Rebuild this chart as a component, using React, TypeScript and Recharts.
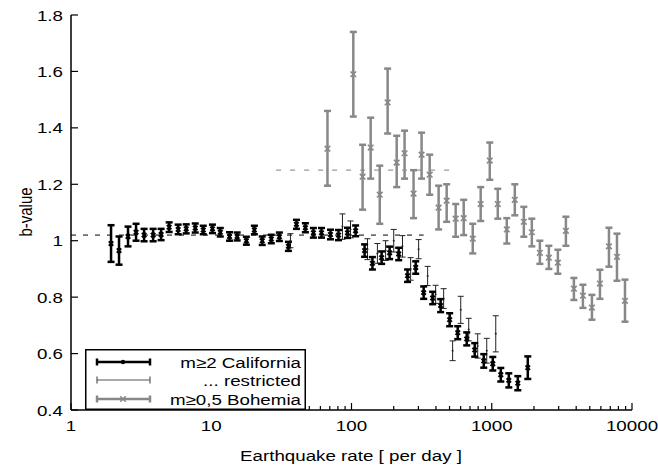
import React from 'react';
import { ComposedChart, Scatter, XAxis, YAxis, ErrorBar, ReferenceLine, Legend } from 'recharts';

const FONT = '"Liberation Sans", Arial, sans-serif';
const FS = 15;
const STRETCH = 1.25;

// m>=2 California (thick black)
const caX = [1.93, 2.2, 2.55, 2.91, 3.32, 3.85, 4.39, 5.01, 5.81, 6.63, 7.69, 8.77, 10.2, 11.6, 13.5, 15.3, 17.8, 20.3, 23.1, 26.8, 30.6, 35.5, 40.5, 46.9, 53.5, 61.1, 70.8, 80.8, 93.6, 107, 124, 141, 164, 187, 217, 251, 287, 327, 379, 432, 501, 572, 663, 756, 877, 1017, 1160, 1323, 1534, 1807];
const caB = [0.99, 0.965, 1.015, 1.03, 1.02, 1.02, 1.022, 1.048, 1.04, 1.042, 1.045, 1.038, 1.042, 1.03, 1.015, 1.015, 1.0, 1.038, 1.0, 1.006, 1.014, 0.98, 1.058, 1.046, 1.028, 1.028, 1.022, 1.02, 1.028, 1.035, 0.965, 0.92, 0.94, 0.957, 0.953, 0.876, 0.905, 0.816, 0.797, 0.77, 0.72, 0.674, 0.652, 0.613, 0.574, 0.564, 0.525, 0.505, 0.495, 0.55];
const caErr = [0.065, 0.05, 0.035, 0.03, 0.022, 0.022, 0.02, 0.017, 0.017, 0.016, 0.016, 0.015, 0.015, 0.015, 0.015, 0.014, 0.014, 0.015, 0.015, 0.015, 0.015, 0.016, 0.016, 0.016, 0.017, 0.017, 0.017, 0.018, 0.018, 0.019, 0.022, 0.022, 0.022, 0.022, 0.022, 0.022, 0.022, 0.022, 0.022, 0.023, 0.023, 0.023, 0.023, 0.024, 0.024, 0.024, 0.024, 0.025, 0.025, 0.04];

// ... restricted (thin)
const reX = [36.7, 86.2, 98.4, 130, 153, 175, 200, 231, 264, 301, 349, 398, 454, 526, 601, 685, 794, 921, 1068];
const reB = [1.0, 1.05, 1.04, 0.97, 0.955, 0.965, 1.0, 0.98, 0.9, 0.97, 0.875, 0.81, 0.795, 0.61, 0.755, 0.685, 0.627, 0.61, 0.67];
const reErr = [0.025, 0.045, 0.03, 0.037, 0.035, 0.035, 0.04, 0.038, 0.04, 0.034, 0.034, 0.032, 0.035, 0.035, 0.048, 0.04, 0.043, 0.044, 0.064];

// m>=0,5 Bohemia (gray)
const boX = [67.4, 103, 120, 137, 159, 181, 210, 239, 277, 316, 361, 418, 477, 553, 631, 732, 834, 968, 1104, 1280, 1460, 1693, 1931, 2203, 2554, 2961, 3378, 3852, 4467, 5179, 5907, 6850, 7814, 8913];
const boB = [1.326, 1.59, 1.227, 1.33, 1.163, 1.49, 1.277, 1.31, 1.167, 1.305, 1.234, 1.117, 1.142, 1.078, 1.08, 1.007, 1.13, 1.284, 1.13, 1.04, 1.145, 1.067, 1.03, 0.957, 0.94, 0.922, 1.035, 0.83, 0.805, 0.763, 0.848, 0.98, 0.943, 0.787];
const boLo = [1.195, 1.44, 1.11, 1.22, 1.06, 1.38, 1.19, 1.22, 1.08, 1.22, 1.163, 1.04, 1.067, 1.014, 1.02, 0.955, 1.07, 1.216, 1.078, 0.99, 1.09, 1.014, 0.98, 0.918, 0.9, 0.883, 0.982, 0.79, 0.762, 0.72, 0.794, 0.908, 0.858, 0.713];
const boHi = [1.46, 1.74, 1.34, 1.436, 1.266, 1.61, 1.372, 1.39, 1.25, 1.383, 1.305, 1.195, 1.2, 1.13, 1.145, 1.06, 1.19, 1.348, 1.184, 1.08, 1.2, 1.12, 1.078, 1.0, 0.982, 0.968, 1.085, 0.868, 0.844, 0.808, 0.897, 1.046, 1.025, 0.862];

// dashed mean levels
const caMean = { y: 1.02, from: 1, to: 327 };
const boMean = { y: 1.25, from: 29, to: 553 };

const xMajor = [1, 10, 100, 1000, 10000];
const xTicks = xMajor.flatMap((d) => (d === 10000 ? [d] : [1, 2, 3, 4, 5, 6, 7, 8, 9].map((m) => m * d)));
const yTicks = [0.4, 0.6, 0.8, 1, 1.2, 1.4, 1.6, 1.8];

const caRows = caX.map((x, i) => ({ x, y: caB[i], err: caErr[i] }));
const reRows = reX.map((x, i) => ({ x, y: reB[i], err: reErr[i] }));
const boRows = boX.map((x, i) => ({ x, y: boB[i], err: [boB[i] - boLo[i], boHi[i] - boB[i]] }));

const isMajor = (v: number) => Math.abs(Math.log10(v) - Math.round(Math.log10(v))) < 1e-6;
const yFmt = (v: number) => (v === 1 ? '1' : v.toFixed(1));

// the original lettering is a horizontally stretched Helvetica
const WideText = ({ x, y, anchor = 'start', children }: any) => (
  <text
    transform={`translate(${x},${y}) scale(${STRETCH},1)`}
    x={0}
    y={0}
    textAnchor={anchor}
    fontSize={FS}
    fontFamily={FONT}
    fill="#000"
  >
    {children}
  </text>
);

const BottomTick = (p: any) => {
  const major = isMajor(p.payload.value);
  return (
    <g>
      <line x1={p.x} y1={p.y} x2={p.x} y2={p.y - (major ? 7 : 4)} stroke="#000" strokeWidth={1.2} />
      {major && (
        <WideText x={p.x} y={p.y + 21} anchor="middle">
          {p.payload.value}
        </WideText>
      )}
    </g>
  );
};

const TopTick = (p: any) => {
  const major = isMajor(p.payload.value);
  return <line x1={p.x} y1={p.y} x2={p.x} y2={p.y + (major ? 7 : 4)} stroke="#000" strokeWidth={1.2} />;
};

const LeftTick = (p: any) => (
  <g>
    <line x1={p.x} y1={p.y} x2={p.x + 7} y2={p.y} stroke="#000" strokeWidth={1.2} />
    <WideText x={p.x - 8} y={p.y + 5.5} anchor="end">
      {yFmt(p.payload.value)}
    </WideText>
  </g>
);

const RightTick = (p: any) => <line x1={p.x} y1={p.y} x2={p.x - 7} y2={p.y} stroke="#000" strokeWidth={1.2} />;

const XLabel = () => (
  <WideText x={351} y={461} anchor="middle">
    Earthquake rate [ per day ]
  </WideText>
);

const YLabel = () => (
  <text
    transform={`translate(32,212) scale(${STRETCH},1) rotate(-90)`}
    x={0}
    y={0}
    textAnchor="middle"
    fontSize={FS}
    fontFamily={FONT}
    fill="#000"
  >
    b-value
  </text>
);

const XMark = ({ cx, cy, color, size, sw }: any) => {
  if (cx == null || cy == null) return null;
  return (
    <g>
      <line x1={cx - size} y1={cy - size} x2={cx + size} y2={cy + size} stroke={color} strokeWidth={sw} />
      <line x1={cx - size} y1={cy + size} x2={cx + size} y2={cy - size} stroke={color} strokeWidth={sw} />
    </g>
  );
};

const Sample = ({ y, color, sw, mark }: any) => (
  <g>
    <line x1={12} y1={y} x2={65} y2={y} stroke={color} strokeWidth={sw} />
    <line x1={12} y1={y - 3.5} x2={12} y2={y + 3.5} stroke={color} strokeWidth={sw} />
    <line x1={65} y1={y - 3.5} x2={65} y2={y + 3.5} stroke={color} strokeWidth={sw} />
    {mark === 'dot' && <circle cx={38} cy={y} r={2.2} fill={color} />}
    {mark === 'x' && <XMark cx={38} cy={y} color={color} size={2.8} sw={1.6} />}
  </g>
);

const LegendBox = () => (
  <svg width={221} height={61} style={{ display: 'block' }}>
    <rect x={0.75} y={0.75} width={219.5} height={59.5} fill="#fff" stroke="#000" strokeWidth={1.5} />
    <Sample y={13} color="#000" sw={2.5} mark="dot" />
    <Sample y={31} color="#555" sw={1.2} mark="none" />
    <Sample y={50} color="#888" sw={2.5} mark="x" />
    <WideText x={216} y={18.5} anchor="end">m≥2 California</WideText>
    <WideText x={216} y={36.5} anchor="end">... restricted</WideText>
    <WideText x={216} y={55.5} anchor="end">m≥0,5 Bohemia</WideText>
  </svg>
);

const axisLine = { stroke: '#000', strokeWidth: 1.5 };

export default function App() {
  return (
    <div style={{ position: 'absolute', left: 0, top: 0, background: '#fff' }}>
      <ComposedChart width={658} height={472} margin={{ top: 15, right: 26, bottom: 0, left: 0 }}>
        <XAxis
          xAxisId="b"
          dataKey="x"
          type="number"
          scale="log"
          domain={[1, 10000]}
          allowDataOverflow
          ticks={xTicks}
          interval={0}
          tick={<BottomTick />}
          tickLine={false}
          tickSize={0}
          tickMargin={0}
          axisLine={axisLine}
          height={62}
          label={<XLabel />}
        />
        <XAxis
          xAxisId="t"
          dataKey="x"
          orientation="top"
          type="number"
          scale="log"
          domain={[1, 10000]}
          allowDataOverflow
          ticks={xTicks}
          interval={0}
          tick={<TopTick />}
          tickLine={false}
          tickSize={0}
          tickMargin={0}
          axisLine={axisLine}
          height={0}
        />
        <YAxis
          yAxisId="l"
          dataKey="y"
          type="number"
          domain={[0.4, 1.8]}
          allowDataOverflow
          ticks={yTicks}
          interval={0}
          tick={<LeftTick />}
          tickLine={false}
          tickSize={0}
          tickMargin={0}
          axisLine={axisLine}
          width={71}
          label={<YLabel />}
        />
        <YAxis
          yAxisId="r"
          dataKey="y"
          orientation="right"
          type="number"
          domain={[0.4, 1.8]}
          allowDataOverflow
          ticks={yTicks}
          interval={0}
          tick={<RightTick />}
          tickLine={false}
          tickSize={0}
          tickMargin={0}
          axisLine={axisLine}
          width={0}
        />

        <ReferenceLine
          xAxisId="b"
          yAxisId="l"
          segment={[{ x: caMean.from, y: caMean.y }, { x: caMean.to, y: caMean.y }]}
          stroke="#000"
          strokeWidth={1}
          strokeDasharray="5 7"
        />
        <ReferenceLine
          xAxisId="b"
          yAxisId="l"
          segment={[{ x: boMean.from, y: boMean.y }, { x: boMean.to, y: boMean.y }]}
          stroke="#999"
          strokeWidth={1.2}
          strokeDasharray="5 9"
        />

        <Scatter
          xAxisId="b"
          yAxisId="l"
          data={boRows}
          isAnimationActive={false}
          shape={(p: any) => <XMark cx={p.cx} cy={p.cy} color="#888" size={2.8} sw={1.6} />}
        >
          <ErrorBar dataKey="err" direction="y" width={3.5} stroke="#888" strokeWidth={2.5} isAnimationActive={false} />
        </Scatter>
        <Scatter
          xAxisId="b"
          yAxisId="l"
          data={reRows}
          isAnimationActive={false}
          shape={(p: any) => <circle cx={p.cx} cy={p.cy} r={1} fill="#222" />}
        >
          <ErrorBar dataKey="err" direction="y" width={3} stroke="#222" strokeWidth={1} isAnimationActive={false} />
        </Scatter>
        <Scatter
          xAxisId="b"
          yAxisId="l"
          data={caRows}
          isAnimationActive={false}
          shape={(p: any) => <XMark cx={p.cx} cy={p.cy} color="#000" size={2.2} sw={2} />}
        >
          <ErrorBar dataKey="err" direction="y" width={3.5} stroke="#000" strokeWidth={2.5} isAnimationActive={false} />
        </Scatter>

        <Legend
          layout="vertical"
          align="center"
          verticalAlign="middle"
          wrapperStyle={{ left: 85, top: 349, width: 221, height: 61 }}
          content={() => <LegendBox />}
        />
      </ComposedChart>
    </div>
  );
}
